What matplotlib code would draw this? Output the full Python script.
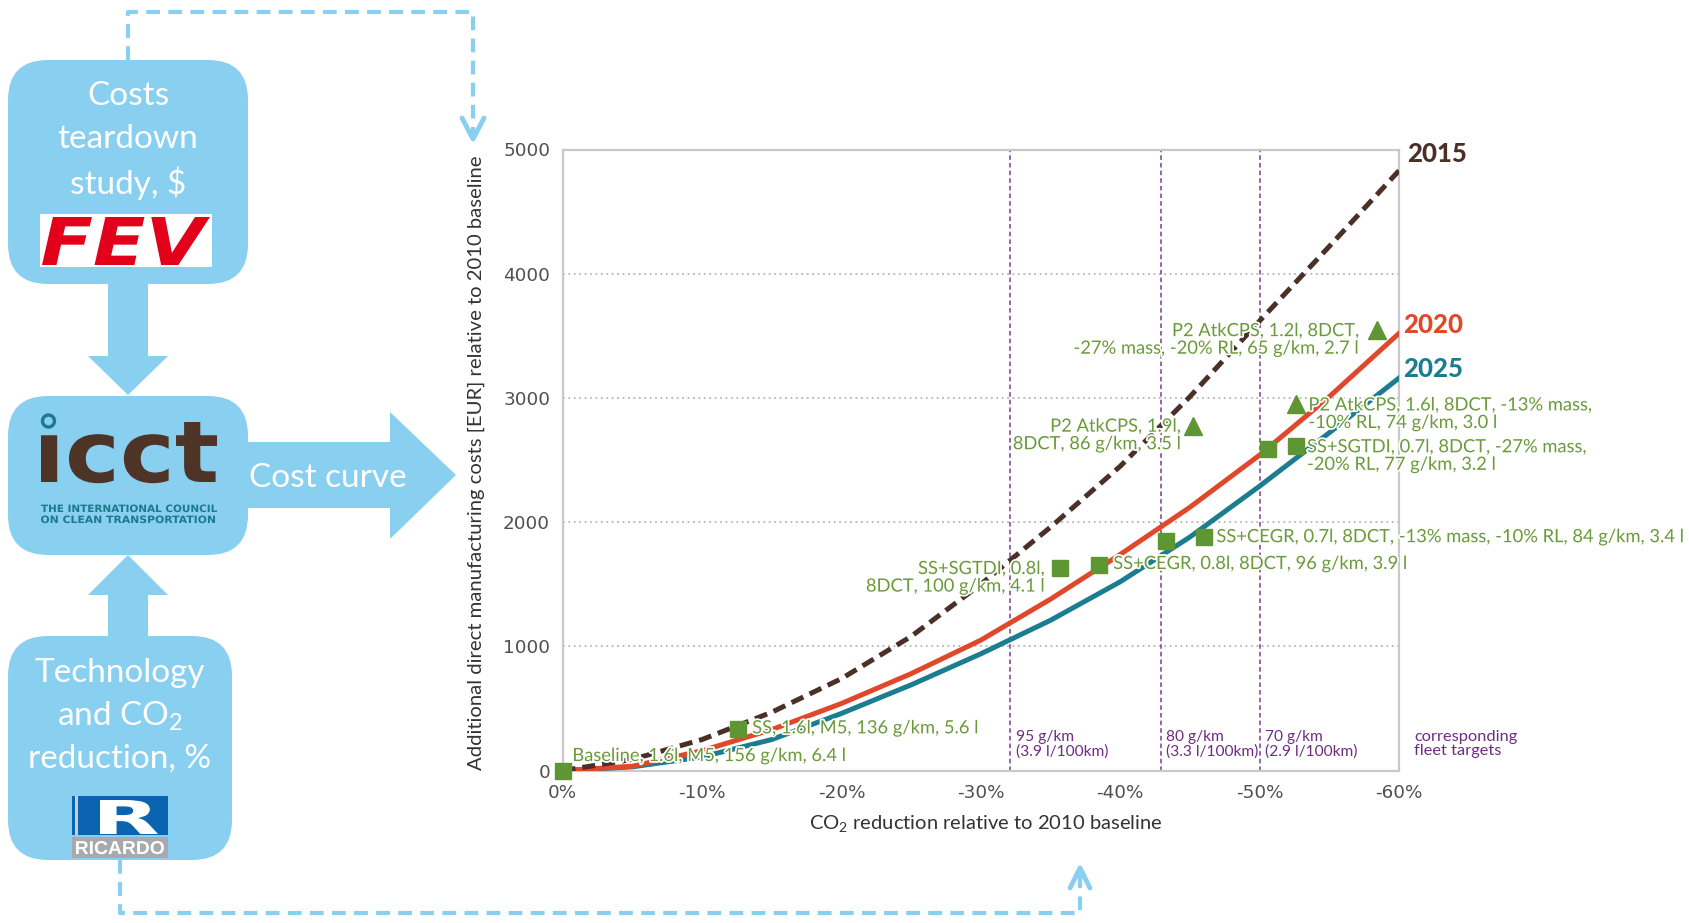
import matplotlib
matplotlib.use("Agg")
import matplotlib.pyplot as plt
import matplotlib.patheffects as pe
from matplotlib.patches import FancyBboxPatch, Polygon, Rectangle, Circle, PathPatch
from matplotlib.textpath import TextPath
from matplotlib.font_manager import FontProperties
from matplotlib.transforms import Affine2D

plt.rcParams["font.family"] = ["Lato", "DejaVu Sans"]
plt.rcParams["mathtext.fontset"] = "custom"
plt.rcParams["mathtext.rm"] = "Lato"

# ---- data (CO2 reduction in %, cost in EUR) ----
reduction = [0, -5, -10, -15, -20, -25, -30, -35, -40, -45, -50, -55, -60]
cost_2015 = [0, 90, 250, 470, 740, 1080, 1500, 1960, 2450, 3010, 3620, 4220, 4830]
cost_2020 = [0, 35, 160, 330, 540, 780, 1050, 1380, 1740, 2120, 2540, 3010, 3520]
cost_2025 = [0, 30, 110, 250, 460, 690, 940, 1210, 1520, 1880, 2290, 2720, 3160]

square_x = [0, -12.6, -35.7, -38.5, -43.3, -46.0, -50.6, -52.6]
square_y = [0, 336, 1632, 1659, 1846, 1879, 2589, 2616]
triangle_x = [-45.2, -58.4, -52.6]
triangle_y = [2778, 3543, 2954]

target_x = [-32.1, -42.9, -50.0]
target_labels = ["95 g/km\n(3.9 l/100km)", "80 g/km\n(3.3 l/100km)", "70 g/km\n(2.9 l/100km)"]

x_ticks = [0, -10, -20, -30, -40, -50, -60]
x_ticklabels = ["0%", "-10%", "-20%", "-30%", "-40%", "-50%", "-60%"]
y_ticks = [0, 1000, 2000, 3000, 4000, 5000]

# technology package labels: text, x, y, alignment
tech_labels = [
    ("Baseline, 1.6l, M5, 156 g/km, 6.4 l", -0.7, 117, "left"),
    ("SS, 1.6l, M5, 136 g/km, 5.6 l", -13.6, 340, "left"),
    ("SS+SGTDI, 0.8l,\n8DCT, 100 g/km, 4.1 l", -34.6, 1552, "right"),
    ("SS+CEGR, 0.8l, 8DCT, 96 g/km, 3.9 l", -39.5, 1663, "left"),
    ("SS+CEGR, 0.7l, 8DCT, -13% mass, -10% RL, 84 g/km, 3.4 l", -46.9, 1879, "left"),
    ("P2 AtkCPS, 1.9l,\n8DCT, 86 g/km, 3.5 l", -44.4, 2698, "right"),
    ("P2 AtkCPS, 1.2l, 8DCT,\n-27% mass, -20% RL, 65 g/km, 2.7 l", -57.2, 3467, "right"),
    ("P2 AtkCPS, 1.6l, 8DCT, -13% mass,\n-10% RL, 74 g/km, 3.0 l", -53.5, 2869, "left"),
    ("SS+SGTDI, 0.7l, 8DCT, -27% mass,\n-20% RL, 77 g/km, 3.2 l", -53.4, 2532, "left"),
]

C2015, C2020, C2025 = "#4a3027", "#e0482b", "#1a7d90"
GREEN_M, GREEN_T = "#5e9634", "#6a9a3a"
PURPLE = "#6e2c80"
BLUE = "#89cff0"

fig = plt.figure(figsize=(16.9, 9.23), dpi=100)

# ---- flowchart on a pixel-coordinate overlay ----
bg = fig.add_axes([0, 0, 1, 1])
bg.set_xlim(0, 1690)
bg.set_ylim(923, 0)
bg.axis("off")


def fit_text(s, x0, x1, y_top, y_base, color, prop):
    tp = TextPath((0, 0), s, size=1, prop=prop)
    ext = tp.get_extents()
    sx = (x1 - x0) / ext.width
    sy = (y_base - y_top) / ext.y1
    tr = Affine2D().translate(-ext.x0, 0).scale(sx, -sy).translate(x0, y_base)
    bg.add_patch(PathPatch(tr.transform_path(tp), facecolor=color, lw=0))


def box(x0, y0, x1, y1):
    bg.add_patch(FancyBboxPatch((x0, y0), x1 - x0, y1 - y0,
                                boxstyle="round,pad=0,rounding_size=40",
                                facecolor=BLUE, edgecolor="none"))


box(8, 60, 248, 284)
box(8, 396, 248, 555)
box(8, 636, 232, 860)

# arrows
bg.add_patch(Polygon([(108, 283), (148, 283), (148, 356), (168, 356), (128, 395),
                      (88, 356), (108, 356)], closed=True, facecolor=BLUE, edgecolor="none"))
bg.add_patch(Polygon([(108, 637), (148, 637), (148, 595), (168, 595), (128, 555),
                      (88, 595), (108, 595)], closed=True, facecolor=BLUE, edgecolor="none"))
bg.add_patch(Polygon([(246, 442), (390, 442), (390, 412), (456, 475), (390, 539),
                      (390, 508), (246, 508)], closed=True, facecolor=BLUE, edgecolor="none"))

# dashed connectors
dash = dict(color=BLUE, lw=3, ls=(0, (3.3, 2)), solid_capstyle="butt")
bg.plot([128, 128, 473, 473], [60, 12, 12, 136], **dash)
bg.plot([462, 473, 484], [118, 139, 118], color=BLUE, lw=3.5, solid_capstyle="round",
        solid_joinstyle="round")
bg.plot([120, 120, 1080, 1080], [860, 913, 913, 874], **dash)
bg.plot([1070, 1080, 1090], [888, 868, 888], color=BLUE, lw=3.5, solid_capstyle="round",
        solid_joinstyle="round")

# box texts
for txt, y in [("Costs", 96), ("teardown", 139), ("study, $", 183)]:
    bg.text(128, y, txt, color="white", fontsize=24, ha="center", va="center")
bg.text(328, 478, "Cost curve", color="white", fontsize=24, ha="center", va="center")
for txt, y in [("Technology", 673), ("and CO$_\\mathregular{2}$", 716), ("reduction, %", 759)]:
    bg.text(120, y, txt, color="white", fontsize=24, ha="center", va="center")

# FEV logo
bg.add_patch(Rectangle((40, 214), 172, 53, facecolor="white", edgecolor="none"))
fit_text("FEV", 42, 210, 217, 265, "#e2001a",
         FontProperties(family="DejaVu Sans", weight="bold", style="italic"))

# icct logo
fit_text("\u0131cct", 41, 217, 422, 482, "#4e3427",
         FontProperties(family="DejaVu Sans", weight="bold"))
bg.add_patch(Circle((48.5, 421), 6.0, facecolor="none", edgecolor="#1b7a8c", lw=2.4))
fit_text("THE INTERNATIONAL COUNCIL", 41, 217, 504.5, 512, "#1b7a8c",
         FontProperties(family="DejaVu Sans", weight="bold"))
fit_text("ON CLEAN TRANSPORTATION", 41, 215, 515.5, 523, "#1b7a8c",
         FontProperties(family="DejaVu Sans", weight="bold"))

# Ricardo logo
bg.add_patch(Rectangle((72, 796), 96, 39, facecolor="#0a64b0", edgecolor="none"))
bg.add_patch(Rectangle((72, 836.5), 96, 21, facecolor="#a7a9ac", edgecolor="none"))
bg.add_patch(Rectangle((75, 796), 3, 39, facecolor="#c9ced6", edgecolor="none"))
fit_text("R", 100, 158, 800, 834, "white",
         FontProperties(family="DejaVu Sans", weight="bold"))
fit_text("RICARDO", 76, 164, 841, 854, "white",
         FontProperties(family="Liberation Sans", weight="bold"))

# axis titles (placed in pixel space)
bg.text(476, 463, "Additional direct manufacturing costs [EUR] relative to 2010 baseline",
        rotation=90, ha="center", va="center", fontsize=14.6, color="#333333")
bg.text(986, 824, "CO$_\\mathregular{2}$ reduction relative to 2010 baseline",
        ha="center", va="center", fontsize=14.5, color="#333333")

# ---- cost curve chart ----
ax = fig.add_axes([562.6 / 1690, 1 - 770.6 / 923, (1399 - 562.6) / 1690, (770.6 - 149.5) / 923])
ax.set_zorder(2)
ax.patch.set_alpha(0)
ax.set_xlim(0, -60)
ax.set_ylim(0, 5000)

for v in y_ticks[1:-1]:
    ax.axhline(v, color="#b5b5b5", lw=1.3, ls=(0, (1, 2)), zorder=0)
for xv in target_x:
    ax.axvline(xv, color="#7b3f8c", lw=1.1, ls=(0, (3, 2)), zorder=1)
for xv, lab in zip(target_x, target_labels):
    ax.text(xv - 0.4, 213, lab, ha="left", va="center", fontsize=11.2, color=PURPLE,
            linespacing=1.0)
ax.text(-61.1, 213, "corresponding\nfleet targets", ha="left", va="center", fontsize=11.8,
        color=PURPLE, linespacing=1.0, clip_on=False)

ax.plot(reduction, cost_2025, color=C2025, lw=3.6, zorder=3)
ax.plot(reduction, cost_2020, color=C2020, lw=3.6, zorder=3)
ax.plot(reduction, cost_2015, color=C2015, lw=3.6, ls=(0, (2.6, 1.4)), zorder=4)

halo = [pe.withStroke(linewidth=2.5, foreground="white")]
for txt, xv, yv, ha in tech_labels:
    ax.text(xv, yv, txt, ha=ha, va="center", fontsize=13.2, color=GREEN_T, linespacing=1.12,
            path_effects=halo, zorder=5, clip_on=False)

ax.plot(square_x, square_y, "s", ms=12, color=GREEN_M, clip_on=False, zorder=6)
ax.plot(triangle_x, triangle_y, "^", ms=13, color=GREEN_M, clip_on=False, zorder=6)

for yr, xv, yv, col in [("2015", -60.6, 4960, C2015), ("2020", -60.3, 3588, C2020),
                        ("2025", -60.3, 3231, C2025)]:
    ax.text(xv, yv, yr, fontsize=18.5, fontweight="black", color=col, ha="left",
            va="center", clip_on=False)

ax.set_xticks(x_ticks, x_ticklabels)
ax.set_yticks(y_ticks, [str(v) for v in y_ticks])
for lab in ax.get_xticklabels() + ax.get_yticklabels():
    lab.set_family(["DejaVu Sans"])
ax.tick_params(axis="both", length=0, labelsize=13.2, labelcolor="#505050")
ax.tick_params(axis="y", pad=9)
ax.tick_params(axis="x", pad=10)
for sp in ax.spines.values():
    sp.set_color("#c9c9cd")
    sp.set_linewidth(1.6)

fig.savefig("out.png", dpi=100)
